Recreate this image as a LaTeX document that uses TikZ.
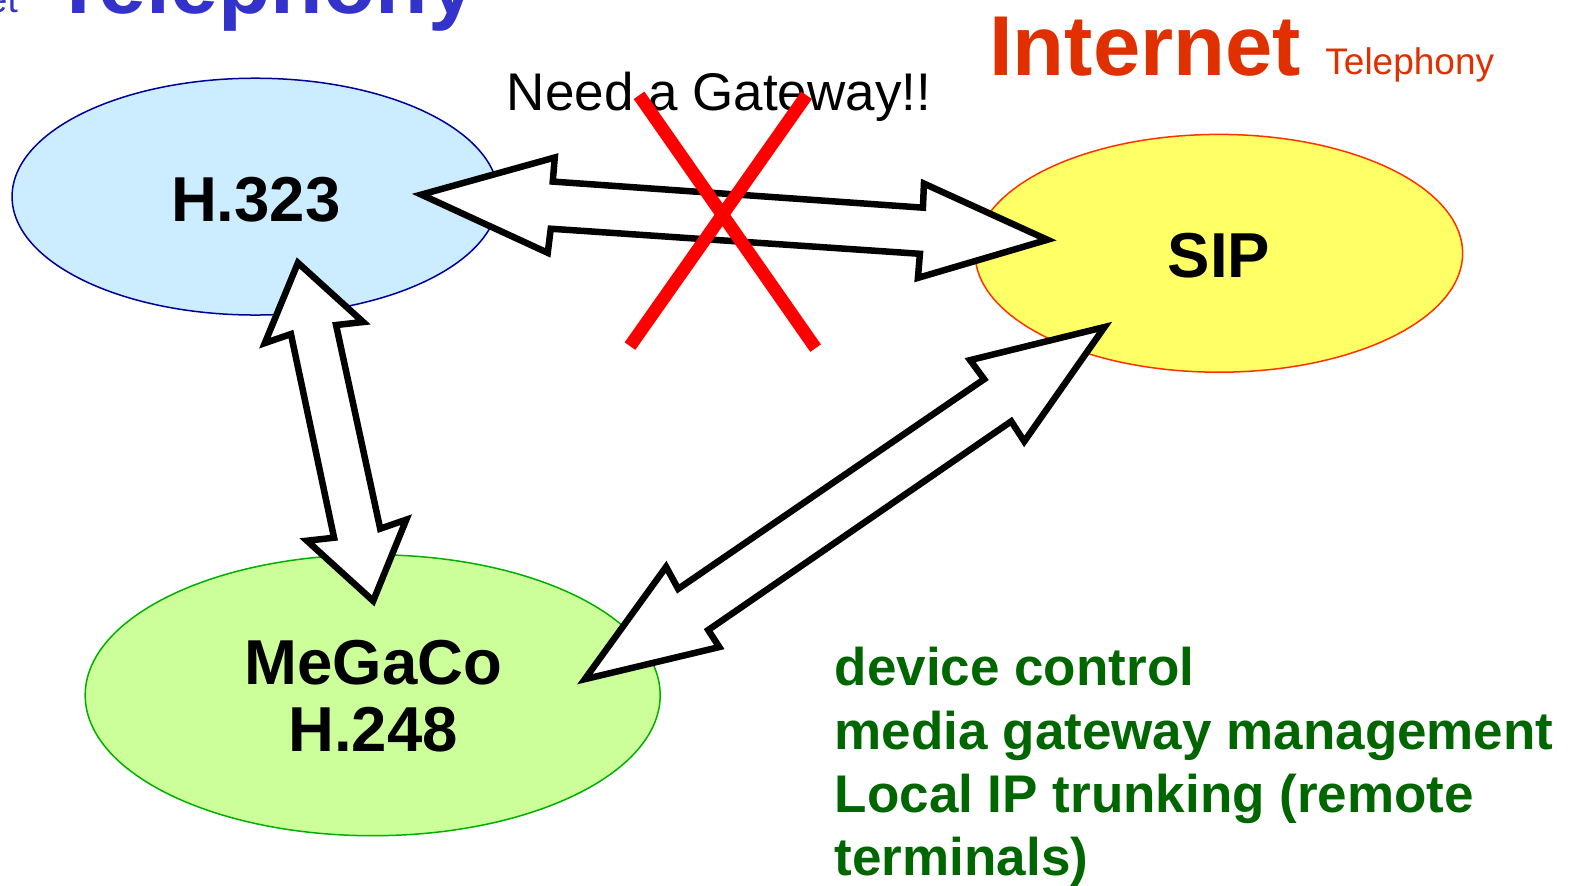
\documentclass[tikz,border=0pt]{standalone}
\usepackage{fontspec}
\setmainfont{Liberation Sans}
\usetikzlibrary{shapes.geometric}

\definecolor{hfill}{HTML}{CCECFF}
\definecolor{hline}{HTML}{000099}
\definecolor{sfill}{HTML}{FFFF66}
\definecolor{sline}{HTML}{FF3300}
\definecolor{mfill}{HTML}{CCFF99}
\definecolor{mline}{HTML}{00B000}
\definecolor{notegreen}{HTML}{006600}
\definecolor{titleblue}{HTML}{3333CC}
\definecolor{titlered}{HTML}{E03000}
\definecolor{crossred}{HTML}{FF0000}

\tikzset{
  proto/.style={ellipse, inner sep=0pt, line width=1.5pt},
  protolabel/.style={anchor=base, font=\fontsize{63.5}{67}\selectfont\bfseries},
  blockarrow/.style={draw=black, fill=white, line width=6.5pt, line join=miter},
  crossline/.style={draw=crossred, line width=13pt},
  note/.style={anchor=base west, text=notegreen, font=\fontsize{53}{63}\selectfont\bfseries, inner sep=0pt},
}

\begin{document}
\begin{tikzpicture}[x=1.0032pt, y=-1.0032pt]
\useasboundingbox (0,0) rectangle (1568,883);
\fill[white] (0,0) rectangle (1568,883);

% page headings
\node[anchor=base east, inner sep=0pt, text=titleblue, font=\fontsize{37}{40}\selectfont] (subL) at (18,12) {Internet};
\node[anchor=base west, inner sep=0pt, text=titleblue, font=\fontsize{86}{90}\selectfont\bfseries] (titleL) at (52,13) {Telephony};
\node[anchor=base west, inner sep=0pt, text=titlered, font=\fontsize{85}{90}\selectfont\bfseries] (titleR) at (986,75) {Internet};
\node[anchor=base west, inner sep=0pt, text=titlered, font=\fontsize{37}{40}\selectfont] (subR) at (1321,74) {Telephony};

% protocol ellipses
\node[proto, draw=hline, fill=hfill, minimum width=486.5pt, minimum height=236.8pt] (h323) at (254.5,196) {};
\node[proto, draw=sline, fill=sfill, minimum width=487.5pt, minimum height=237.8pt] (sip) at (1215,252.5) {};
\node[proto, draw=mline, fill=mfill, minimum width=575pt, minimum height=281pt] (megaco) at (371.5,693) {};

\node[protolabel] (h323txt) at (255,221) {H.323};
\node[protolabel] (siptxt) at (1215,277) {SIP};
\node[protolabel] (megtxt) at (372,682) {MeGaCo};
\node[protolabel] (h248txt) at (372,749) {H.248};

% block arrows between the protocols
\draw[blockarrow] (420,194) -- (553,157) -- (551,181) -- (920,207) -- (921,183)
  -- (1044,239) -- (915,277) -- (917,253) -- (549,228) -- (546,252) -- cycle;
\draw[blockarrow] (297,262) -- (362,321) -- (335,324) -- (379,527) -- (405,518)
  -- (372,599) -- (306,539) -- (333,536) -- (290,333) -- (264,342) -- cycle;
\draw[blockarrow] (583,677) -- (664,565) -- (676,587) -- (981,378) -- (967,359)
  -- (1101,326) -- (1021,440) -- (1008,420) -- (706,628) -- (717,645) -- cycle;

% gateway remark and the cross over the direct link
\node[anchor=base west, inner sep=0pt, font=\fontsize{53}{58}\selectfont] (gw) at (505,110) {Need a Gateway!!};
\coordinate (xa1) at (637,95);
\coordinate (xa2) at (813,347);
\coordinate (xb1) at (804,95);
\coordinate (xb2) at (628,345);
\draw[crossline] (xa1) -- (xa2);
\draw[crossline] (xb1) -- (xb2);

% MeGaCo notes
\node[note] (n1) at (832,683) {device control};
\node[note] (n2) at (832,747) {media gateway management};
\node[note] (n3) at (832,810) {Local IP trunking (remote};
\node[note] (n4) at (832,873) {terminals)};
\end{tikzpicture}
\end{document}
